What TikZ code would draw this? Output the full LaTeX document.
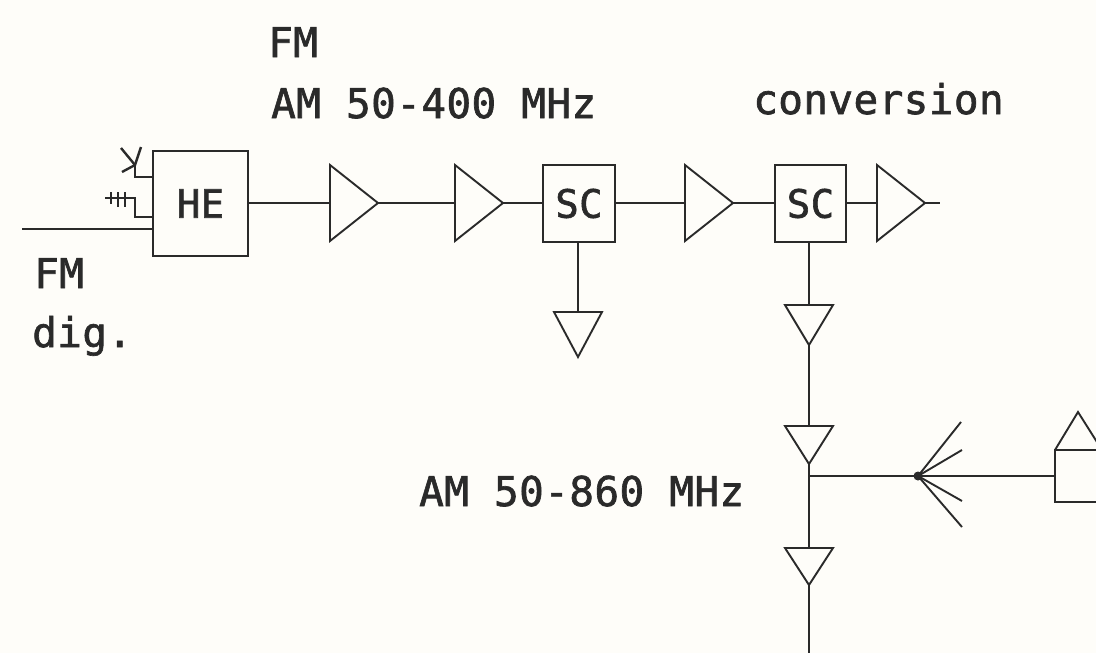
\documentclass[tikz,border=0pt]{standalone}
\usepackage{fontspec}
\setmonofont[LetterSpace=1,FakeBold=1.6]{DejaVu Sans Mono}
\newcommand{\ampright}[3]{%
  \coordinate (#1-in) at (#2,#3);
  \coordinate (#1-out) at ({#2+48},#3);
  \draw[wire,line join=miter] ({#2},{#3-38}) -- ({#2},{#3+38}) -- (#1-out) -- cycle;}
\newcommand{\ampdown}[4]{% name, x, top y, height
  \coordinate (#1-in) at (#2,#3);
  \coordinate (#1-out) at (#2,{#3+#4});
  \draw[wire] ({#2-24},#3) -- ({#2+24},#3) -- (#1-out) -- cycle;}
\tikzset{
  wire/.style={draw=ink,line width=1.9pt},
  label/.style={font=\ttfamily\fontsize{41}{41}\selectfont,text=ink,anchor=base west,inner sep=0pt},
  blockbox/.style={draw=ink,line width=1.9pt,fill=paper,inner sep=0pt,font=\ttfamily\fontsize{39}{39}\selectfont,text=ink}
}
\definecolor{ink}{HTML}{2A2A2A}
\definecolor{paper}{HTML}{FEFDF9}
\begin{document}
\begin{tikzpicture}[x=1pt,y=-1pt]
\useasboundingbox (0,0) rectangle (1096,653);
\clip (0,0) rectangle (1096,653);
\fill[paper] (0,0) rectangle (1096,653);

% texts
\node[label] (t1) at (268,57) {FM};
\node[label] (t2) at (271,118) {AM 50-400 MHz};
\node[label] (t3) at (753,114) {conversion};
\node[label] (t4) at (34,288) {FM};
\node[label] (t5) at (32,347) {dig.};
\node[label] (t6) at (419,506) {AM 50-860 MHz};

% blocks
\node[blockbox,minimum width=95pt,minimum height=105pt] (he) at (200.5,203.5) {HE};
\node[blockbox,minimum width=72pt,minimum height=77pt] (sc1) at (579,203.5) {SC};
\node[blockbox,minimum width=71pt,minimum height=77pt] (sc2) at (810.5,203.5) {SC};

% amplifiers
\ampright{a1}{330}{203}
\ampright{a2}{455}{203}
\ampright{a3}{685}{203}
\ampright{a4}{877}{203}
\ampdown{d1}{578}{312}{45}
\ampdown{d2}{809}{305}{40}
\ampdown{d3}{809}{426}{38}
\ampdown{d4}{809}{548}{37}

% main connectors
\draw[wire] (he.east |- a1-in) -- (a1-in);
\draw[wire] (a1-out) -- (a2-in);
\draw[wire] (a2-out) -- (sc1.west |- a2-out);
\draw[wire] (sc1.east |- a3-in) -- (a3-in);
\draw[wire] (a3-out) -- (sc2.west |- a3-out);
\draw[wire] (sc2.east |- a4-in) -- (a4-in);
\coordinate (end) at (940,203);
\draw[wire] (a4-out) -- (end);
\draw[wire] (sc1.south -| d1-in) -- (d1-in);
\draw[wire] (sc2.south -| d2-in) -- (d2-in);
\draw[wire] (d2-out) -- (d3-in);
\draw[wire] (d3-out) -- (d4-in);
\coordinate (bottom) at (809,653);
\draw[wire] (d4-out) -- (bottom);

% HE inputs
\coordinate (feed) at (22,229);
\draw[wire] (feed) -- (he.west |- feed);
\coordinate (ant) at (135,165);
\coordinate (antst) at (135,177);
\draw[wire] (he.west |- antst) -- (antst) -- (ant);
\draw[wire,line width=2.4pt] (122,172) -- (135,165) -- (141,147);
\draw[wire,line width=2.4pt] (135,165) -- (121,148);
\coordinate (cab) at (105,198);
\draw[wire] (he.west |- 0,217) -- (135,217) -- (135,198) -- (cab);
\draw[line width=1.8pt,draw=ink] (111,192) -- (111,204) (118,192) -- (118,207) (125,192) -- (125,207);

% branch, splitter and far-right unit
\coordinate (tee) at (809,476);
\coordinate (split) at (918,476);
\coordinate (unit) at (1055,476);
\draw[wire] (tee) -- (unit);
\fill[ink] (split) circle (4.5);
\draw[wire] (split) -- (961,422);
\draw[wire] (split) -- (962,450);
\draw[wire] (split) -- (962,501);
\draw[wire] (split) -- (962,527);
\draw[wire] (1110,450) -- (1055,450) -- (1055,502) -- (1110,502);
\draw[wire] (1055,450) -- (1078,412) -- (1102,450);
\end{tikzpicture}
\end{document}
